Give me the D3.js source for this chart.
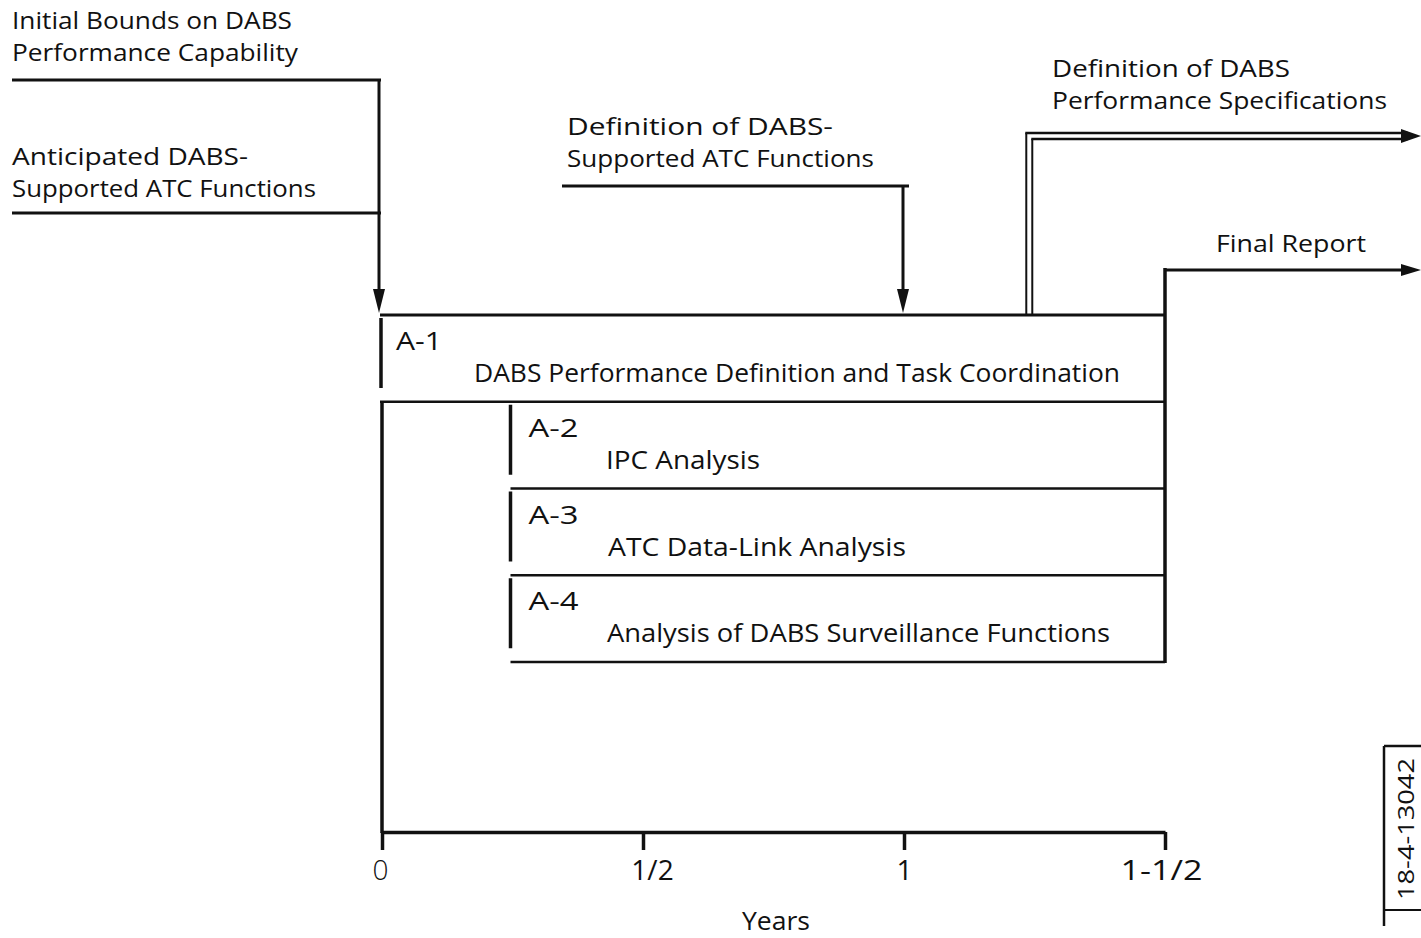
<!DOCTYPE html>
<html><head><meta charset="utf-8">
<script src="https://cdn.jsdelivr.net/npm/d3@7"></script>
<style>
html,body{margin:0;padding:0;background:#fff;}
text{font-family:"Open Sans",sans-serif;fill:#111;}
</style></head>
<body>
<svg id="c" width="1421" height="938"></svg>
<script>
// ---- data ----
const tasks = ["A-1","A-2","A-3","A-4"];
const taskNames = ["DABS Performance Definition and Task Coordination","IPC Analysis","ATC Data-Link Analysis","Analysis of DABS Surveillance Functions"];
const taskStart = [0, 0.25, 0.25, 0.25];
const taskEnd = [1.5, 1.5, 1.5, 1.5];
const tickValues = [0, 0.5, 1, 1.5];
const tickLabels = ["0", "1/2", "1", "1-1/2"];
const inputs = [
  {lines:["Initial Bounds on DABS","Performance Capability"], at:0},
  {lines:["Anticipated DABS-","Supported ATC Functions"], at:0},
  {lines:["Definition of DABS-","Supported ATC Functions"], at:1}
];
const outputs = [
  {lines:["Definition of DABS","Performance Specifications"], at:1.24},
  {lines:["Final Report"], at:1.5}
];
const axisTitle = "Years";
const figId = "18-4-13042";

// ---- drawing ----
const svg = d3.select("#c");
const x = d3.scaleLinear().domain([0,1.5]).range([382,1165]);
const y = d3.scaleBand().domain(tasks).range([315,662]).padding(0);
const ink = "#111";
const FS = 23;
const FB = 26;

function line(x1,y1,x2,y2,w){
  svg.append("line").attr("x1",x1).attr("y1",y1).attr("x2",x2).attr("y2",y2)
    .attr("stroke",ink).attr("stroke-width",w||3);
}
function arrowDown(cx,tipY){
  svg.append("path").attr("d",`M${cx-6},${tipY-24}L${cx+6},${tipY-24}L${cx},${tipY}Z`).attr("fill",ink);
}
function arrowRight(tipX,cy,h){
  h = h||6;
  svg.append("path").attr("d",`M${tipX-20},${cy-h}L${tipX},${cy}L${tipX-20},${cy+h}Z`).attr("fill",ink);
}
function label(lines,x0,y0,fitW,fs){
  lines.forEach((t,i)=>{
    const el = svg.append("text").attr("x",x0).attr("y",y0+i*32).attr("font-size",fs||FS).text(t);
    if(fitW && fitW[i]) el.attr("textLength",fitW[i]).attr("lengthAdjust","spacingAndGlyphs");
  });
}

// task boxes
tasks.forEach((t,i)=>{
  const x0 = x(taskStart[i]), x1 = x(taskEnd[i]);
  const y0 = y(t), y1 = y0 + y.bandwidth();
  line(x0-1+(i>0?-1:0), y0+3, x0-1+(i>0?-1:0), y0+73, 3.5);
  line(x0-2, y1, x1, y1, 2.5);
  svg.append("text").attr("x",x0+14+(i>0?2:0)).attr("y",y0+35).attr("font-size",FB)
    .attr("textLength",i===0?46:50).attr("lengthAdjust","spacingAndGlyphs").text(t);
});
line(x(0)-2, y("A-1"), x(1.5), y("A-1"), 3);
line(x(1.5), 268, x(1.5), y("A-4")+y.bandwidth()+1, 3.5);
const nameX = [474, 606, 608, 607];
const nameW = [646, 154, 298, 503];
tasks.forEach((t,i)=>{
  svg.append("text").attr("x",nameX[i]).attr("y",y(t)+67).attr("font-size",FB)
    .attr("textLength",nameW[i]).attr("lengthAdjust","spacingAndGlyphs").text(taskNames[i]);
});

line(x(0), y("A-2"), x(0), 833, 3.5);

// axis
const axis = d3.axisBottom(x).tickValues(tickValues).tickFormat((d,i)=>tickLabels[i]).tickSize(18).tickSizeOuter(0).tickPadding(10);
const g = svg.append("g").attr("transform","translate(0,832)").call(axis);
g.select(".domain").attr("stroke",ink).attr("stroke-width",3.5);
g.selectAll(".tick line").attr("stroke",ink).attr("stroke-width",3.5);
const tickDx = [-2, 9, 0, -4];
g.selectAll(".tick text").attr("font-size",28).attr("font-family","Open Sans").attr("fill",ink)
  .attr("dx",(d,i)=>tickDx[i]);
g.selectAll(".tick text").filter(d=>d===1.5).attr("textLength",82).attr("lengthAdjust","spacingAndGlyphs");
g.selectAll(".tick text").filter(d=>d===0).attr("fill","#888").attr("font-weight",300);
svg.append("text").attr("x",776).attr("y",930).attr("text-anchor","middle").attr("font-size",25)
  .attr("textLength",68).attr("lengthAdjust","spacingAndGlyphs").text(axisTitle);

// inputs
label(inputs[0].lines, 12, 29, [280,286]);
line(12, 80, x(inputs[0].at)-1, 80, 3);
line(x(inputs[0].at)-3, 79, x(inputs[0].at)-3, 295, 3);
arrowDown(x(inputs[0].at)-3, 313);
label(inputs[1].lines, 12, 165, [236,304]);
line(12, 213, x(inputs[1].at)-1, 213, 3);
label(inputs[2].lines, 567, 135, [266,307]);
line(562, 186, x(inputs[2].at)+5, 186, 3);
line(x(inputs[2].at)-1, 185, x(inputs[2].at)-1, 295, 3);
arrowDown(x(inputs[2].at)-1, 313);

// outputs
const ox = x(outputs[0].at);
label(outputs[0].lines, 1052, 77, [238,335], 24);
line(ox-3, 315, ox-3, 133, 2);
line(ox+3, 315, ox+3, 139, 2);
line(ox-4, 133, 1408, 133, 2.5);
line(ox+2, 139, 1408, 139, 2.5);
arrowRight(1421, 136, 7);
label(outputs[1].lines, 1216, 252, [150], 24);
line(x(outputs[1].at), 270, 1408, 270, 3);
arrowRight(1421, 270, 6);

// figure id box
line(1384, 746, 1421, 746, 2.5);
line(1384, 746, 1384, 926, 2.5);
line(1384, 910, 1421, 910, 2);
svg.append("text").attr("transform","translate(1414,829) rotate(-90)").attr("text-anchor","middle")
  .attr("font-size",22).attr("textLength",142).attr("lengthAdjust","spacingAndGlyphs").text(figId);
</script>
</body></html>
